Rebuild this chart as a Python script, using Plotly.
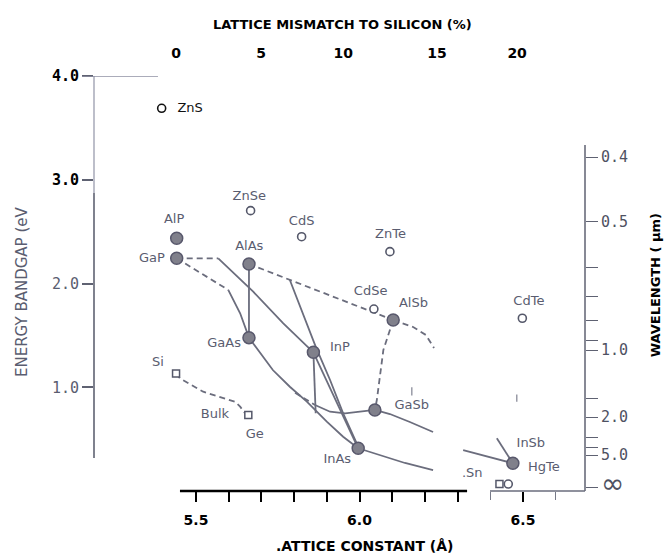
import plotly.graph_objects as go

# ---------------- compounds: lattice constant (Å) and energy bandgap (eV) ----------------
# III-V binaries (filled markers)
III_V_NAMES = ["AlP", "GaP", "AlAs", "GaAs", "InP", "AlSb", "GaSb", "InAs", "InSb/HgTe"]
III_V_A = [5.441, 5.441, 5.662, 5.662, 5.859, 6.103, 6.047, 5.996, 6.469]
III_V_EG = [2.436, 2.243, 2.188, 1.478, 1.337, 1.648, 0.781, 0.412, 0.267]

# II-VI binaries (open circles)
II_VI_NAMES = ["ZnS", "ZnSe", "CdS", "ZnTe", "CdSe", "CdTe", "HgTe (0 eV)"]
II_VI_A = [5.395, 5.667, 5.823, 6.093, 6.044, 6.498, 6.455]
II_VI_EG = [3.689, 2.702, 2.451, 2.307, 1.754, 1.665, 0.067]

# group IV elements (open squares)
IV_NAMES = ["Si", "Ge", "Sn"]
IV_A = [5.439, 5.660, 6.428]
IV_EG = [1.133, 0.733, 0.067]

# text labels
LABEL_TEXT = ["ZnS", "AlP", "GaP", "ZnSe", "CdS", "AlAs", "ZnTe", "GaAs", "InP", "CdSe",
              "AlSb", "CdTe", "GaSb", "InAs", "Si", "Bulk", "Ge", "InSb", "HgTe", ".Sn"]
LABEL_A = [5.482, 5.433, 5.365, 5.663, 5.823, 5.663, 6.095, 5.586, 5.940, 6.034,
           6.165, 6.518, 6.160, 5.932, 5.384, 5.558, 5.680, 6.524, 6.564, 6.345]
LABEL_EG = [3.689, 2.612, 2.236, 2.837, 2.596, 2.355, 2.467, 1.424, 1.381, 1.921,
            1.809, 1.825, 0.822, 0.299, 1.237, 0.733, 0.540, 0.460, 0.228, 0.171]

# ---------------- alloy curves (lattice constant, bandgap) ----------------
GAP_INP_INDIRECT = ([5.441, 5.568], [2.243, 2.243])
GAP_INP_DIRECT = ([5.568, 5.675, 5.767, 5.859], [2.243, 1.921, 1.616, 1.337])
GAP_GAAS_INDIRECT = ([5.441, 5.599], [2.243, 1.937])
GAP_GAAS_DIRECT = ([5.599, 5.635, 5.662], [1.937, 1.713, 1.478])
ALAS_GAAS = ([5.662, 5.662], [2.188, 1.478])
ALAS_ALSB_INDIRECT = ([5.662, 6.103], [2.188, 1.648])
ALSB_INSB_INDIRECT = ([6.103, 6.164, 6.203, 6.228], [1.648, 1.581, 1.504, 1.378])
ALSB_GASB_INDIRECT = ([6.103, 6.073, 6.053, 6.047], [1.648, 1.359, 0.877, 0.781])
ALAS_INAS = ([5.787, 5.823, 5.866, 5.910, 5.950, 5.996], [2.034, 1.745, 1.391, 1.070, 0.749, 0.427])
INP_INAS = ([5.859, 5.996], [1.337, 0.412])
INP_MATCHED = ([5.859, 5.866], [1.337, 0.749])
GAAS_INAS = ([5.662, 5.696, 5.735, 5.787, 5.839, 5.900, 5.950, 5.996],
             [1.478, 1.330, 1.166, 1.005, 0.861, 0.668, 0.523, 0.412])
GAAS_GASB_INDIRECT = ([5.803, 5.864], [0.947, 0.829])
GAAS_GASB = ([5.864, 5.910, 5.956, 6.002, 6.047], [0.829, 0.764, 0.749, 0.764, 0.781])
GASB_INSB = ([6.047, 6.093, 6.154, 6.225], [0.781, 0.742, 0.665, 0.569])
GASB_INSB_END = ([6.317, 6.469], [0.395, 0.267])
INAS_INSB = ([5.996, 6.063, 6.139, 6.225], [0.412, 0.347, 0.270, 0.202])
ALSB_INSB_END = ([6.420, 6.469], [0.508, 0.267])
SI_GE = ([5.439, 5.451, 5.522, 5.619, 5.635, 5.650], [1.133, 1.086, 0.957, 0.861, 0.813, 0.749])
# short stray strokes left on the drawing
STROKE_1 = ([6.160, 6.160], [0.92, 1.00])
STROKE_2 = ([6.481, 6.481], [0.86, 0.93])

SOLID_CURVES = [GAP_INP_DIRECT, GAP_GAAS_DIRECT, ALAS_GAAS, ALAS_INAS, INP_INAS, INP_MATCHED,
                GAAS_INAS, GAAS_GASB, GASB_INSB, GASB_INSB_END, INAS_INSB, ALSB_INSB_END]
DASHED_CURVES = [GAP_INP_INDIRECT, GAP_GAAS_INDIRECT, ALAS_ALSB_INDIRECT, ALSB_INSB_INDIRECT,
                 ALSB_GASB_INDIRECT, GAAS_GASB_INDIRECT, SI_GE]
STROKES = [STROKE_1, STROKE_2]

# ---------------- axis ticks ----------------
A_TICKS = [5.5, 5.6, 5.7, 5.8, 5.9, 6.0, 6.1, 6.2, 6.3, 6.5]
A_TICK_LABELS = ["5.5", "", "", "", "", "6.0", "", "", "", "6.5"]
EG_TICKS = [1.0, 2.0, 3.0, 4.0]
EG_TICK_LABELS = ["1.0", "2.0", "3.0", "4.0"]
MISMATCH_LABELS = ["0", "5", "10", "15", "20"]
MISMATCH_POS = [5.439, 5.699, 5.950, 6.237, 6.482]
WAVE_LABELS = ["0.4", "0.5", "1.0", "2.0", "5.0", "∞"]
WAVE_POS = [3.219, 2.593, 1.359, 0.713, 0.347, 0.029]
WAVE_MINOR_POS = [2.159, 1.870, 1.648, 1.455, 0.896, 0.511, 0.424]

A_RANGE = [5.1881, 6.6896]
EG_RANGE = [0.0, 4.0]

LINE_GRAY = "#6b6d7d"
TEXT_GRAY = "#5a5d70"
AXIS_GRAY = "#5f6272"

fig = go.Figure()

for xs, ys in SOLID_CURVES:
    fig.add_trace(go.Scatter(x=xs, y=ys, mode="lines", hoverinfo="skip",
                             line=dict(color=LINE_GRAY, width=1.8)))
for xs, ys in DASHED_CURVES:
    fig.add_trace(go.Scatter(x=xs, y=ys, mode="lines", hoverinfo="skip",
                             line=dict(color=LINE_GRAY, width=1.8, dash="6px,4px")))
for xs, ys in STROKES:
    fig.add_trace(go.Scatter(x=xs, y=ys, mode="lines", hoverinfo="skip",
                             line=dict(color="#8a8c9a", width=1.3)))

fig.add_trace(go.Scatter(
    x=IV_A, y=IV_EG, mode="markers", text=IV_NAMES,
    marker=dict(symbol="square", size=7, color="white", line=dict(color="#55586a", width=1.5))))
fig.add_trace(go.Scatter(
    x=II_VI_A, y=II_VI_EG, mode="markers", text=II_VI_NAMES,
    marker=dict(symbol="circle", size=8, color="white",
                line=dict(color=["#111111"] + ["#55586a"] * (len(II_VI_A) - 1), width=1.6))))
fig.add_trace(go.Scatter(
    x=III_V_A, y=III_V_EG, mode="markers", text=III_V_NAMES,
    marker=dict(symbol="circle", size=12, color="#80808b", line=dict(color="#58586c", width=1.5))))

fig.add_trace(go.Scatter(
    x=LABEL_A, y=LABEL_EG, mode="text", text=LABEL_TEXT, hoverinfo="skip",
    textposition="middle center",
    textfont=dict(family="DejaVu Sans", size=13,
                  color=["#111111"] + [TEXT_GRAY] * (len(LABEL_TEXT) - 1))))

# invisible anchors for the secondary axes
fig.add_trace(go.Scatter(x=[], y=[], xaxis="x2", yaxis="y", showlegend=False))
fig.add_trace(go.Scatter(x=[], y=[], xaxis="x", yaxis="y2", showlegend=False))

num_font = dict(family="DejaVu Sans", size=14, color="black")
mono_font = dict(family="DejaVu Sans Mono", size=15, color="black")

fig.update_layout(
    width=668, height=555, autosize=False,
    margin=dict(l=94, r=83, t=76, b=64),
    paper_bgcolor="white", plot_bgcolor="white",
    showlegend=False,
    xaxis=dict(range=A_RANGE, showgrid=False, zeroline=False, showline=False,
               tickmode="array", tickvals=A_TICKS,
               ticktext=[f"<b>{t}</b>" if t else "" for t in A_TICK_LABELS],
               ticks="outside", ticklen=10, tickwidth=2.2, tickcolor="black",
               tickfont=num_font, ticklabelstandoff=6,
               minor=dict(tickmode="array", tickvals=[6.4, 6.6], ticks="outside",
                          ticklen=8, tickwidth=1.3, tickcolor="#777a88")),
    xaxis2=dict(range=A_RANGE, overlaying="x", side="top", anchor="y",
                showgrid=False, zeroline=False, showline=False,
                tickmode="array", tickvals=MISMATCH_POS,
                ticktext=[f"<b>{t}</b>" for t in MISMATCH_LABELS],
                ticks="", tickfont=num_font, ticklabelstandoff=14),
    yaxis=dict(range=EG_RANGE, showgrid=False, zeroline=False, showline=False,
               tickmode="array", tickvals=EG_TICKS,
               ticktext=[f'<span style="color:{TEXT_GRAY}">{t}</span>' if v < 2.5 else f"<b>{t}</b>"
                         for t, v in zip(EG_TICK_LABELS, EG_TICKS)],
               ticks="outside", ticklen=11, tickwidth=1.5, tickcolor=AXIS_GRAY,
               tickfont=mono_font),
    yaxis2=dict(range=EG_RANGE, overlaying="y", side="right", anchor="x",
                showgrid=False, zeroline=False, showline=False,
                tickmode="array", tickvals=WAVE_POS,
                ticktext=[f'<span style="font-family:DejaVu Sans;font-size:28px">{t}</span>'
                          if t == "∞" else t for t in WAVE_LABELS],
                ticks="outside", ticklen=12, tickwidth=1.4, tickcolor=AXIS_GRAY,
                tickfont=dict(family="DejaVu Sans Mono", size=15, color="#4e5162"),
                minor=dict(tickmode="array", tickvals=WAVE_MINOR_POS, ticks="outside",
                           ticklen=12, tickwidth=1.4, tickcolor=AXIS_GRAY)),
)

# axis frame pieces
fig.add_shape(type="line", xref="paper", yref="y", x0=0, x1=0, y0=0.318, y1=2.872,
              line=dict(color=AXIS_GRAY, width=1.6))
fig.add_shape(type="line", xref="paper", yref="y", x0=0, x1=0, y0=2.872, y1=4.0,
              line=dict(color="#9a9cae", width=1.3))
fig.add_shape(type="line", xref="paper", yref="y", x0=-0.0244, x1=0.1303, y0=4.0, y1=4.0,
              line=dict(color="#8f91a3", width=1.5))
fig.add_shape(type="line", xref="paper", yref="y", x0=1, x1=1, y0=-0.01, y1=3.335,
              line=dict(color=AXIS_GRAY, width=1.5))
fig.add_shape(type="line", xref="x", yref="paper", x0=5.451, x1=6.329, y0=0, y1=0,
              line=dict(color="black", width=2.6))
fig.add_shape(type="line", xref="x", yref="paper", x0=6.399, x1=A_RANGE[1], y0=0, y1=0,
              line=dict(color="#6a6c7c", width=1.3))

# axis titles
fig.add_annotation(text="<b>LATTICE MISMATCH TO SILICON (%)</b>", xref="paper", yref="paper",
                   x=0.507, y=1.123, showarrow=False, xanchor="center", yanchor="middle",
                   font=dict(family="DejaVu Sans", size=13, color="black"))
fig.add_annotation(text="<b>.ATTICE CONSTANT (Å)</b>", xref="paper", yref="paper",
                   x=0.550, y=-0.1325, showarrow=False, xanchor="center", yanchor="middle",
                   font=dict(family="DejaVu Sans", size=14, color="black"))
fig.add_annotation(text="ENERGY BANDGAP (eV", xref="paper", yref="paper",
                   x=-0.1466, y=0.4795, showarrow=False, textangle=-90,
                   xanchor="center", yanchor="middle",
                   font=dict(family="DejaVu Sans", size=15, color=TEXT_GRAY))
fig.add_annotation(text="<b>WAVELENGTH ( μm)</b>", xref="paper", yref="paper",
                   x=1.1426, y=0.496, showarrow=False, textangle=-90,
                   xanchor="center", yanchor="middle",
                   font=dict(family="DejaVu Sans", size=13, color="black"))

fig.write_html("out.html")
